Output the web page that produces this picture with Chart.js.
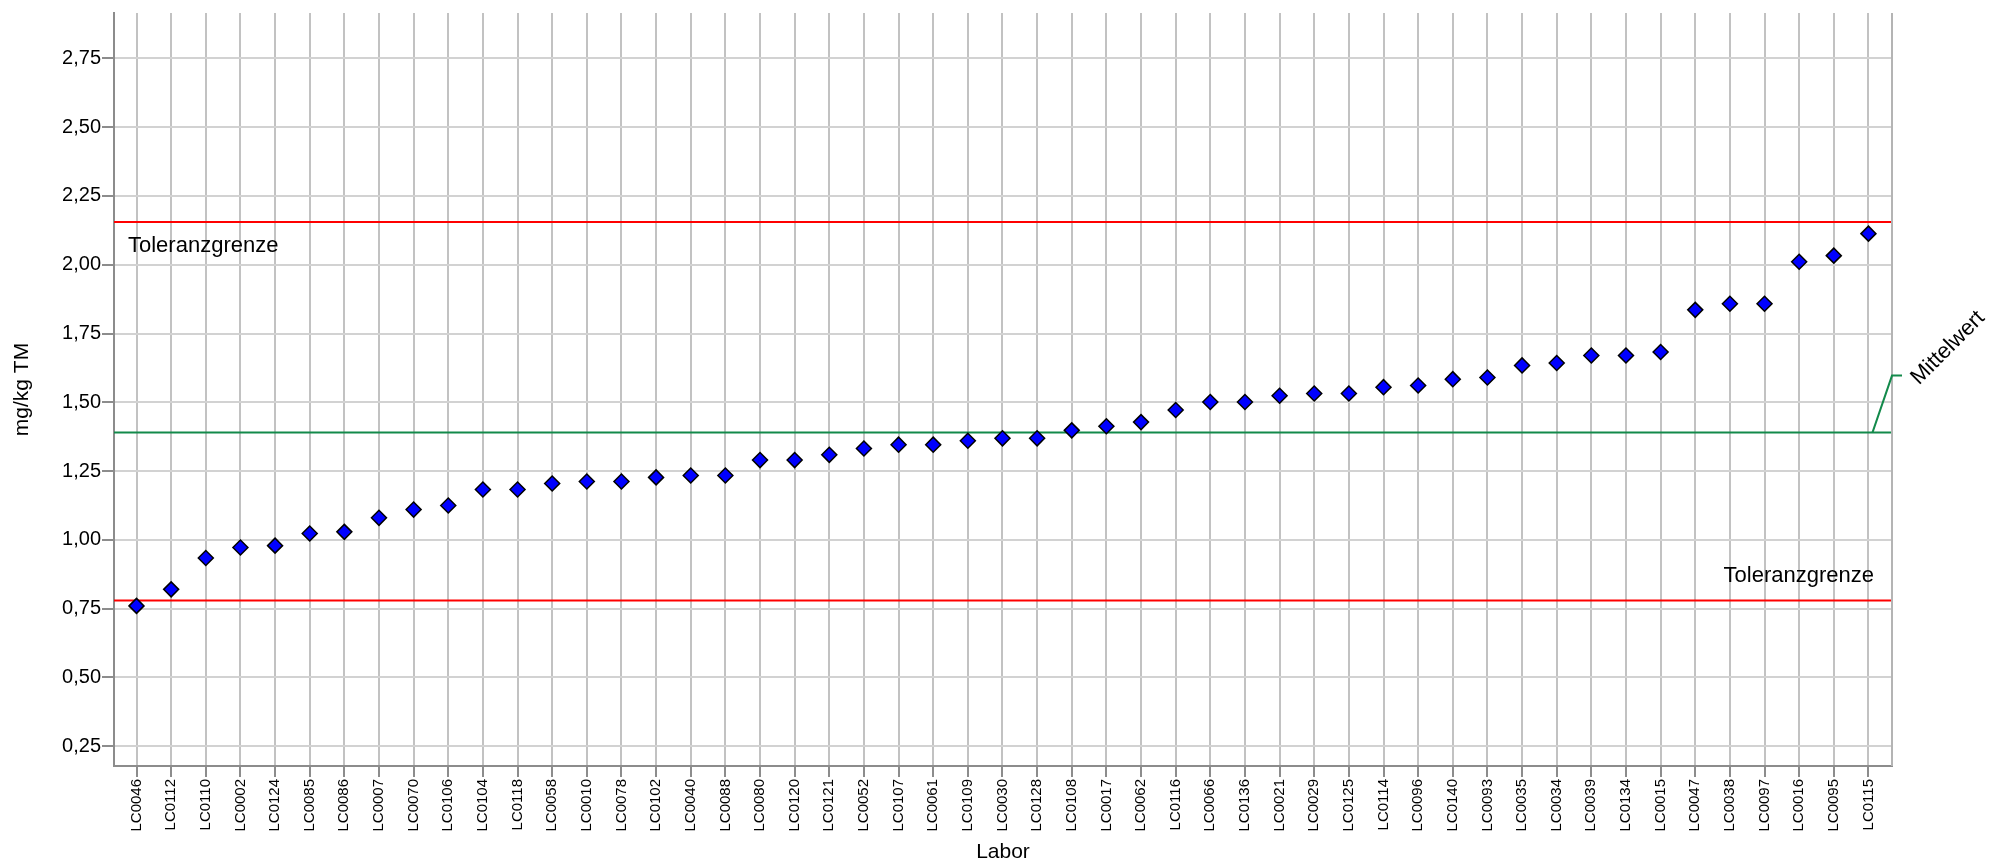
<!DOCTYPE html>
<html lang="de">
<head>
<meta charset="utf-8">
<title>Labor</title>
<script src="https://cdn.jsdelivr.net/npm/chart.js@4.4.1/dist/chart.umd.min.js"></script>
<style>
    html, body { margin: 0; padding: 0; background: #fff; }
    canvas { display: block; }
</style>
</head>
<body>
<canvas id="myGraph" width="1991" height="863"></canvas>
<script>
// Labore auf der x-Achse (sortiert nach Messwert)
const labs = [
    "LC0046", "LC0112", "LC0110", "LC0002", "LC0124", "LC0085", "LC0086", "LC0007",
    "LC0070", "LC0106", "LC0104", "LC0118", "LC0058", "LC0010", "LC0078", "LC0102",
    "LC0040", "LC0088", "LC0080", "LC0120", "LC0121", "LC0052", "LC0107", "LC0061",
    "LC0109", "LC0030", "LC0128", "LC0108", "LC0017", "LC0062", "LC0116", "LC0066",
    "LC0136", "LC0021", "LC0029", "LC0125", "LC0114", "LC0096", "LC0140", "LC0093",
    "LC0035", "LC0034", "LC0039", "LC0134", "LC0015", "LC0047", "LC0038", "LC0097",
    "LC0016", "LC0095", "LC0115"
];

// Messwerte in mg/kg TM
const vals = [
    0.76, 0.82, 0.934, 0.972, 0.979, 1.023, 1.029, 1.08,
    1.11, 1.125, 1.183, 1.183, 1.205, 1.212, 1.212, 1.227,
    1.234, 1.234, 1.29, 1.29, 1.309, 1.332, 1.346, 1.346,
    1.36, 1.369, 1.369, 1.398, 1.413, 1.428, 1.472, 1.501,
    1.501, 1.524, 1.532, 1.532, 1.555, 1.561, 1.584, 1.59,
    1.634, 1.643, 1.67, 1.67, 1.683, 1.836, 1.858, 1.858,
    2.011, 2.033, 2.113
];

// Teilstriche der y-Achse
const yTicks = [0.25, 0.5, 0.75, 1.0, 1.25, 1.5, 1.75, 2.0, 2.25, 2.5, 2.75];

// Grenzen und Mittelwert
const upperLimit = 2.155;
const lowerLimit = 0.78;
const meanValue = 1.39;
const meanLabelLevel = 1.597;

// Achsenbereiche
const xMin = -0.65;
const xMax = 50.68;
const yMin = 0.178;
const yMax = 2.915;

const fontFam = "'Liberation Sans', Arial, sans-serif";
const gridX = "#c2c2c2";
const gridY = "#d2d2d2";
const axisCol = "#8c8c8c";

// Zahl mit Komma formatieren
const fmt = (v) => v.toFixed(2).replace(".", ",");

// Texte und Mittelwert-Hinweis zeichnen
const annotations = {
    id: "annotations",
    afterDraw(chart) {
        const { ctx, chartArea, scales } = chart;
        const xs = scales.x;
        const ys = scales.y;
        ctx.save();

        // rechter Rahmen
        ctx.strokeStyle = "#b4b4b4";
        ctx.lineWidth = 2;
        ctx.beginPath();
        ctx.moveTo(chartArea.right, chartArea.top);
        ctx.lineTo(chartArea.right, chartArea.bottom);
        ctx.stroke();

        ctx.fillStyle = "#000";
        ctx.font = "22px " + fontFam;
        ctx.textBaseline = "alphabetic";

        // obere Toleranzgrenze
        ctx.textAlign = "left";
        ctx.fillText("Toleranzgrenze", chartArea.left + 14, ys.getPixelForValue(upperLimit) + 30);

        // untere Toleranzgrenze
        ctx.textAlign = "right";
        ctx.fillText("Toleranzgrenze", chartArea.right - 18, ys.getPixelForValue(lowerLimit) - 18);

        // Verbindung zum Mittelwert-Text
        const yMean = ys.getPixelForValue(meanValue);
        const yLab = ys.getPixelForValue(meanLabelLevel);
        ctx.strokeStyle = "#138a4b";
        ctx.lineWidth = 2;
        ctx.beginPath();
        ctx.moveTo(xs.getPixelForValue(labs.length - 1) + 4, yMean);
        ctx.lineTo(chartArea.right, yLab);
        ctx.lineTo(chartArea.right + 10, yLab);
        ctx.stroke();

        ctx.translate(chartArea.right + 27, yLab + 10);
        ctx.rotate(-Math.PI / 4);
        ctx.textAlign = "left";
        ctx.fillText("Mittelwert", 0, 0);
        ctx.restore();
    }
};

const refLine = (value, color) => ({
    type: "line",
    data: [{ x: xMin, y: value }, { x: xMax, y: value }],
    borderColor: color,
    borderWidth: 2,
    pointRadius: 0,
    fill: false
});

const ctx = document.getElementById("myGraph").getContext("2d");

const myGraph = new Chart(ctx, {
    type: "scatter",
    data: {
        datasets: [
            {
                label: "Messwert",
                data: vals.map((v, i) => ({ x: i, y: v })),
                pointStyle: "rectRot",
                pointRadius: 7.5,
                pointHoverRadius: 7.5,
                backgroundColor: "#0000ff",
                borderColor: "#000",
                borderWidth: 1.5
            },
            refLine(meanValue, "#138a4b"),
            refLine(upperLimit, "#ff0000"),
            refLine(lowerLimit, "#ff0000")
        ]
    },
    options: {
        responsive: false,
        animation: false,
        devicePixelRatio: 1,
        layout: { padding: { left: 0, top: 12, right: 99, bottom: 0 } },
        plugins: {
            legend: { display: false },
            tooltip: { enabled: false }
        },
        scales: {
            x: {
                type: "linear",
                min: xMin,
                max: xMax,
                afterBuildTicks: (axis) => {
                    axis.ticks = labs.map((l, i) => ({ value: i }));
                },
                afterFit: (axis) => {
                    axis.height = 97;
                },
                ticks: {
                    autoSkip: false,
                    maxRotation: 90,
                    minRotation: 90,
                    padding: 2,
                    color: "#000",
                    font: { family: fontFam, size: 15 },
                    callback: (v) => labs[v]
                },
                grid: {
                    color: gridX,
                    lineWidth: 2,
                    tickLength: 11,
                    tickColor: axisCol,
                    tickWidth: 2
                },
                border: { color: axisCol, width: 2 },
                title: {
                    display: true,
                    text: "Labor",
                    color: "#000",
                    font: { family: fontFam, size: 21, lineHeight: 1 },
                    padding: { top: 0, bottom: 0 }
                }
            },
            y: {
                min: yMin,
                max: yMax,
                afterBuildTicks: (axis) => {
                    axis.ticks = yTicks.map((t) => ({ value: t }));
                },
                afterFit: (axis) => {
                    axis.width = 114;
                },
                ticks: {
                    padding: 1,
                    color: "#000",
                    font: { family: fontFam, size: 20 },
                    callback: (v) => fmt(v)
                },
                grid: {
                    color: gridY,
                    lineWidth: 2,
                    tickLength: 12,
                    tickColor: axisCol,
                    tickWidth: 2
                },
                border: { color: axisCol, width: 2 },
                title: {
                    display: true,
                    text: "mg/kg TM",
                    color: "#000",
                    font: { family: fontFam, size: 21, lineHeight: 1 },
                    padding: { top: 12, bottom: 0 }
                }
            }
        }
    },
    plugins: [annotations]
});
</script>
</body>
</html>
